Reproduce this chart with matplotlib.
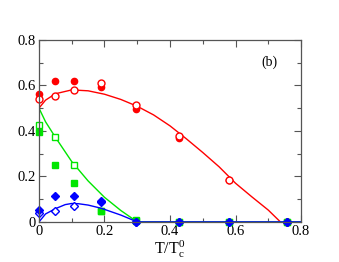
import numpy as np
import matplotlib
matplotlib.use('Agg')
import matplotlib.pyplot as plt
from matplotlib.ticker import MultipleLocator

plt.rcParams['font.family'] = 'Liberation Serif'
plt.rcParams['mathtext.fontset'] = 'custom'
plt.rcParams['mathtext.rm'] = 'Liberation Serif'
plt.rcParams['mathtext.it'] = 'Liberation Serif'

# temperatures of the data points
T = [0.0, 0.05, 0.107, 0.19, 0.297, 0.427, 0.581, 0.758]

red_filled = [0.56, 0.617, 0.617, 0.592, 0.495, 0.368, 0.183, 0.0]
red_open = [0.539, 0.553, 0.58, 0.61, 0.513, 0.377, 0.186, 0.0]
green_filled = [0.393, 0.248, 0.17, 0.05, 0.005, 0.0, 0.0, 0.0]
green_open = [0.425, 0.374, 0.252, 0.048, 0.01, 0.0, 0.0, 0.0]
blue_filled = [0.051, 0.113, 0.113, 0.093, 0.0, 0.0, 0.0, 0.0]
blue_open = [0.037, 0.048, 0.072, 0.088, 0.0, 0.0, 0.0, 0.0]

# fitted curves
red_curve_x = [0, 0.02, 0.05, 0.1, 0.15, 0.2, 0.25, 0.3, 0.35, 0.4, 0.45, 0.5, 0.55, 0.6, 0.65, 0.7, 0.737]
red_curve_y = [0.50, 0.535, 0.563, 0.58, 0.576, 0.561, 0.538, 0.508, 0.47, 0.422, 0.365, 0.305, 0.242, 0.17, 0.11, 0.052, 0.0]
green_curve_x = [0, 0.02, 0.05, 0.1, 0.15, 0.2, 0.25, 0.3, 0.8]
green_curve_y = [0.50, 0.44, 0.372, 0.265, 0.18, 0.108, 0.05, 0.0, 0.0]
blue_curve_x = [0, 0.02, 0.05, 0.08, 0.1, 0.12, 0.15, 0.19, 0.25, 0.3, 0.8]
blue_curve_y = [0.0, 0.035, 0.058, 0.076, 0.081, 0.08, 0.074, 0.06, 0.03, 0.0, 0.0]

fig = plt.figure(figsize=(3.39, 2.62), dpi=100)
ax = fig.add_axes([0.115, 0.153, 0.773, 0.695])

red, green, blue = '#ff0000', '#00e600', '#0000ff'

ax.plot(red_curve_x, red_curve_y, color=red, lw=1)
ax.plot(T, red_filled, 'o', color=red, ms=4.5, clip_on=False)
ax.plot(T, red_open, 'o', mfc='white', mec=red, mew=1, ms=5, clip_on=False)

ax.plot(green_curve_x, green_curve_y, color=green, lw=1)
ax.plot(T, green_open, 's', mfc='white', mec=green, mew=1, ms=5, clip_on=False)
ax.plot(T, green_filled, 's', color=green, ms=4, clip_on=False)

ax.plot(blue_curve_x, blue_curve_y, color=blue, lw=1)
ax.plot(T, blue_open, 'D', mfc='white', mec=blue, mew=1, ms=4, clip_on=False)
ax.plot(T, blue_filled, 'D', color=blue, ms=4, clip_on=False)

ax.set_xlim(0, 0.8)
ax.set_ylim(0, 0.8)
ax.xaxis.set_major_locator(MultipleLocator(0.2))
ax.xaxis.set_minor_locator(MultipleLocator(0.1))
ax.yaxis.set_major_locator(MultipleLocator(0.2))
ax.yaxis.set_minor_locator(MultipleLocator(0.1))
fmt = lambda v, p: '0' if abs(v) < 1e-9 else '%.1f' % v
ax.xaxis.set_major_formatter(fmt)
ax.yaxis.set_major_formatter(fmt)
ax.tick_params(which='both', direction='in', top=True, right=True,
               labelsize=10.5, color='#555555', width=0.8, pad=2)
ax.tick_params(which='major', length=5)
ax.tick_params(which='minor', length=3)
for s in ax.spines.values():
    s.set_color('#555555')
    s.set_linewidth(0.9)

ax.set_xlabel(r'T/T$_\mathrm{c}^\mathrm{0}$', fontsize=11.5, labelpad=1)
ax.text(0.705, 0.703, '(b)', fontsize=10, ha='center', va='center')

fig.savefig('out.png', dpi=100)
